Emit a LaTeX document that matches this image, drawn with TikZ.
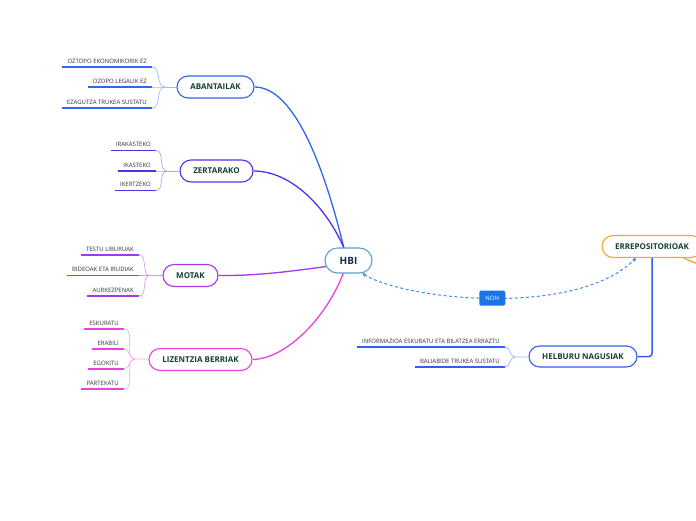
\documentclass[tikz,border=0pt]{standalone}
\usepackage{fontspec}
\setmainfont{Open Sans}
\usetikzlibrary{shapes.misc,arrows.meta}
\definecolor{cAb}{HTML}{3366F0}
\definecolor{cZe}{HTML}{5530E8}
\definecolor{cMo}{HTML}{A436EC}
\definecolor{cLi}{HTML}{F23DDF}
\definecolor{cHe}{HTML}{2F60F2}
\definecolor{cEr}{HTML}{F5A535}
\definecolor{cHb}{HTML}{5B9FD6}
\definecolor{cNon}{HTML}{1A73E8}
\definecolor{cTxt}{HTML}{123F36}
\definecolor{cHbTxt}{HTML}{1C2B4A}
\definecolor{cLeaf}{HTML}{333333}
\tikzset{
  branchbox/.style={rounded rectangle, draw, line width=1.1pt, fill=white, minimum height=22pt,
    text=cTxt, font=\bfseries\fontsize{8}{9}\selectfont, inner xsep=0pt, inner ysep=0pt},
  leafbox/.style={anchor=south east, inner xsep=5pt, inner ysep=3.5pt, text=cLeaf,
    font=\fontsize{6}{7}\selectfont, text depth=0pt},
  underl/.style={line width=1.6pt},
  twig/.style={line width=0.7pt},
  mainlink/.style={line width=1.3pt},
  nonbox/.style={fill=cNon, rounded corners=1.5pt, minimum width=26pt, minimum height=15pt,
    text=white, font=\fontsize{6}{7}\selectfont, inner sep=0pt},
}
\begin{document}
\begin{tikzpicture}[x=1pt,y=-1pt]
\useasboundingbox (0,0) rectangle (696,520);
\clip (0,0) rectangle (696,520);

% central node
\node[rounded rectangle, draw=cHb, line width=1.1pt, fill=white, minimum width=47pt, minimum height=25pt,
  inner xsep=0pt, text=cHbTxt, font=\bfseries\fontsize{10}{12}\selectfont] (hbi) at (348.5,260.5) {HBI};

% ABANTAILAK
\node[branchbox, draw=cAb, minimum width=77pt] (ab) at (215.5,87) {ABANTAILAK};
\coordinate (abf) at (165,87);
\node[leafbox] (ab1) at (152,67) {OZTOPO EKONOMIKORIK EZ};
\node[leafbox] (ab2) at (152,87) {OZOPO LEGALIK EZ};
\node[leafbox] (ab3) at (152,108) {EZAGUTZA TRUKEA SUSTATU};
\foreach \n in {ab1,ab2,ab3}{
  \draw[underl, cAb] (\n.south west) -- (\n.south east);
  \draw[twig, cAb!45] (\n.south east) to[out=0,in=180] (abf);
}
\draw[twig, cAb!45] (abf) -- (ab);

% ZERTARAKO
\node[branchbox, draw=cZe, minimum width=73pt] (ze) at (216.5,171) {ZERTARAKO};
\coordinate (zef) at (167,171);
\node[leafbox] (ze1) at (156,150.5) {IRAKASTEKO};
\node[leafbox] (ze2) at (156,171) {IKASTEKO};
\node[leafbox] (ze3) at (156,190.5) {IKERTZEKO};
\foreach \n in {ze1,ze2,ze3}{
  \draw[underl, cZe] (\n.south west) -- (\n.south east);
  \draw[twig, cZe!45] (\n.south east) to[out=0,in=180] (zef);
}
\draw[twig, cZe!45] (zef) -- (ze);

% MOTAK
\node[branchbox, draw=cMo, minimum width=55pt] (mo) at (190.5,275.5) {MOTAK};
\coordinate (mof) at (150,275.5);
\node[leafbox] (mo1) at (139,255) {TESTU LIBURUAK};
\node[leafbox] (mo2) at (139,275.5) {BIDEOAK ETA IRUDIAK};
\node[leafbox] (mo3) at (139,296) {AURKEZPENAK};
\foreach \n in {mo1,mo2,mo3}{
  \draw[underl, cMo] (\n.south west) -- (\n.south east);
  \draw[twig, cMo!45] (\n.south east) to[out=0,in=180] (mof);
}
\draw[twig, cMo!45] (mof) -- (mo);

% LIZENTZIA BERRIAK
\node[branchbox, draw=cLi, minimum width=103pt] (li) at (200.5,359.5) {LIZENTZIA BERRIAK};
\coordinate (lif) at (135,359);
\node[leafbox] (li1) at (124,329) {ESKURATU};
\node[leafbox] (li2) at (124,349) {ERABILI};
\node[leafbox] (li3) at (124,369) {EGOKITU};
\node[leafbox] (li4) at (124,389) {PARTEKATU};
\foreach \n in {li1,li2,li3,li4}{
  \draw[underl, cLi] (\n.south west) -- (\n.south east);
  \draw[twig, cLi!45] (\n.south east) to[out=0,in=180] (lif);
}
\draw[twig, cLi!45] (lif) -- (li);

% ERREPOSITORIOAK
\node[branchbox, draw=cEr, minimum width=100pt] (er) at (652,246.5) {ERREPOSITORIOAK};
\draw[cEr, line width=1.3pt] (er.-20) -- ++(24,10);

% HELBURU NAGUSIAK
\node[branchbox, draw=cHe, minimum width=108pt, minimum height=21pt] (he) at (583,356.5) {HELBURU NAGUSIAK};
\coordinate (hef) at (515,357);
\node[leafbox] (he1) at (505,347) {INFORMAZIOA ESKURATU ETA BILATZEA ERRAZTU};
\node[leafbox] (he2) at (505,367) {BALIABIDE TRUKEA SUSTATU};
\foreach \n in {he1,he2}{
  \draw[underl, cHe] (\n.south west) -- (\n.south east);
  \draw[twig, cHe!45] (\n.south east) to[out=0,in=180] (hef);
}
\draw[twig, cHe!45] (hef) -- (he);
\draw[line width=1.5pt, cHe, rounded corners=3pt] (he.east) -| (er.south);

% main connectors
\draw[mainlink, cAb] (ab.east) .. controls (295,87) and (325,170) .. (hbi.110);
\draw[mainlink, cZe] (ze.east) .. controls (290,171) and (325,205) .. (hbi.110);
\draw[mainlink, cMo] (mo.east) .. controls (260,276) and (300,270) .. (hbi.195);
\draw[mainlink, cLi] (li.east) .. controls (285,359) and (325,320) .. (hbi.-112);

% dashed relation
\draw[cNon!85, line width=1pt, dash pattern=on 3pt off 2.5pt,
  {Stealth[length=4pt,width=4pt]}-{Stealth[length=4pt,width=4pt]}]
  (hbi.-43) .. controls (405,300) and (575,318) .. (er.-144)
  node[pos=0.5, nonbox] (non) {NON};
\end{tikzpicture}
\end{document}
